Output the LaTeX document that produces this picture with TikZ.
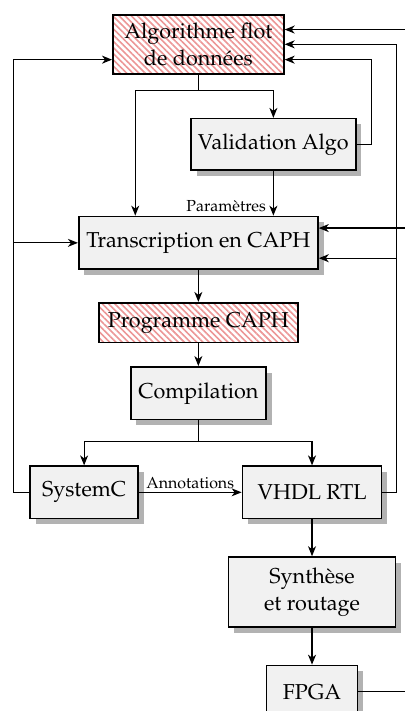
\documentclass[tikz,border=0pt]{standalone}
\usepackage[T1]{fontenc}
\usepackage{mathpazo}
\usepackage{tikz}
\usetikzlibrary{positioning,calc,shadows,arrows.meta,patterns.meta}
\definecolor{boxfill}{RGB}{241,241,241}
\definecolor{hatch}{RGB}{236,150,150}
\tikzset{
  >={Stealth[length=5pt,width=4pt,inset=1.5pt]},
  bloc/.style={draw,thick,fill=boxfill,align=center,inner sep=2pt,
    drop shadow={shadow xshift=1mm,shadow yshift=-1mm,fill=black!30,opacity=1}},
  hbloc/.style={draw,thick,align=center,inner sep=2pt,
    pattern={Lines[angle=-45,distance=2.2pt,line width=0.8pt]},pattern color=hatch},
  lien/.style={->,semithick},
  etiq/.style={font=\footnotesize,inner sep=1.5pt},
}

\begin{document}
\begin{tikzpicture}[font=\fontsize{10.8}{13.5}\selectfont]
  \useasboundingbox (-3.49,0.78) rectangle (3.62,-11.73);
  \node[hbloc,minimum width=3.01cm,minimum height=1.04cm] (algo) at (0,0)
        {Algorithme flot\\ de donn\'ees};
  \node[bloc,minimum width=4.21cm,minimum height=0.93cm,below=2.48cm of algo] (trans)
        {Transcription en CAPH};
  \node[bloc,minimum width=2.90cm,minimum height=0.90cm,below=0.76cm of algo,xshift=1.32cm] (valid)
        {Validation Algo};
  \node[hbloc,minimum width=3.50cm,minimum height=0.70cm,below=0.56cm of trans] (prog)
        {Programme CAPH};
  \node[bloc,minimum width=2.38cm,minimum height=0.93cm,below=0.40cm of prog] (comp)
        {Compilation};
  \node[bloc,minimum width=1.90cm,minimum height=0.92cm,below=0.79cm of comp,xshift=-2.01cm] (sysc)
        {SystemC};
  \node[bloc,minimum width=2.45cm,minimum height=0.92cm,below=0.79cm of comp,xshift=2.0cm] (vhdl)
        {VHDL RTL};
  \node[bloc,minimum width=2.94cm,minimum height=1.23cm,below=0.65cm of vhdl] (synth)
        {Synth\`ese\\ et routage};
  \node[bloc,minimum width=1.60cm,minimum height=0.93cm,below=0.65cm of synth] (fpga)
        {FPGA};

  % points d'entree
  \coordinate (split) at ($(algo.south)+(0,-0.28)$);
  \coordinate (tin) at ($(trans.north)+(-1.11,0)$);
  \coordinate (ahaut) at ($(algo.east)+(0,0.26)$);
  \coordinate (abas) at ($(algo.east)+(0,-0.27)$);
  \coordinate (agauche) at ($(algo.west)+(0,-0.27)$);
  \coordinate (thaut) at ($(trans.east)+(0,0.26)$);
  \coordinate (tbas) at ($(trans.east)+(0,-0.27)$);
  \coordinate (csplit) at ($(comp.south)+(0,-0.37)$);

  % descente
  \draw[semithick] (algo.south) -- (split);
  \draw[lien] (split) -| (valid.north);
  \draw[lien] (split) -| (tin);
  \draw[lien] (valid.south) -- (valid.south |- trans.north)
        node[etiq,pos=1,above left,xshift=-2pt] {Param\`etres};
  \draw[lien] (trans) -- (prog);
  \draw[lien] (prog) -- (comp);
  \draw[semithick] (comp.south) -- (csplit);
  \draw[lien] (csplit) -| (sysc.north);
  \draw[lien] (csplit) -| (vhdl.north);
  \draw[lien] (sysc) -- node[etiq,above] {Annotations} (vhdl);
  \draw[lien] (vhdl) -- (synth);
  \draw[lien] (synth) -- (fpga);

  % retours
  \draw[lien] (valid.east) -- ++(0.26,0) |- (abas);
  \draw[lien] (vhdl.east) -- ++(0.25,0) coordinate (vr) |- (algo.east);
  \draw[lien] (vr |- tbas) -- (tbas);
  \draw[lien] (sysc.west) -- ++(-0.28,0) coordinate (sl) |- (agauche);
  \draw[lien] (sl |- trans.west) -- (trans.west);
  \draw[lien] (fpga.east) -- ++(1.0,0) coordinate (fr) |- (ahaut);
  \draw[lien] (fr |- thaut) -- (thaut);
\end{tikzpicture}
\end{document}
